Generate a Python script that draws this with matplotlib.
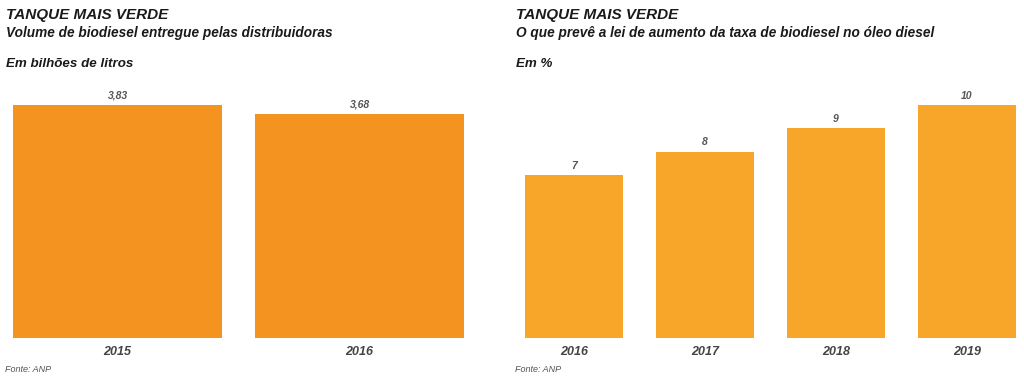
import matplotlib
matplotlib.use("Agg")
import matplotlib.pyplot as plt

W, H = 1024, 376

left_title = "TANQUE MAIS VERDE"
left_subtitle = "Volume de biodiesel entregue pelas distribuidoras"
left_unit = "Em bilhões de litros"
left_years = ["2015", "2016"]
left_values = [3.83, 3.68]
left_labels = ["3,83", "3,68"]

right_title = "TANQUE MAIS VERDE"
right_subtitle = "O que prevê a lei de aumento da taxa de biodiesel no óleo diesel"
right_unit = "Em %"
right_years = ["2016", "2017", "2018", "2019"]
right_values = [7, 8, 9, 10]
right_labels = ["7", "8", "9", "10"]

source = "Fonte: ANP"

plt.rcParams['font.family'] = ['Liberation Sans', 'DejaVu Sans']

fig = plt.figure(figsize=(W / 100, H / 100), dpi=100)
fig.patch.set_facecolor('white')


def px_axes(x0, x1, ytop, ybot):
    return fig.add_axes([x0 / W, 1 - ybot / H, (x1 - x0) / W, (ybot - ytop) / H])


def draw(ax, years, values, labels, width, color, ytop_val):
    n = len(values)
    xs = list(range(n))
    ax.bar(xs, values, width=width, color=color, edgecolor='none')
    ax.set_xlim(-width / 2, n - 1 + width / 2)
    ax.set_ylim(0, ytop_val)
    for x, v, lab in zip(xs, values, labels):
        ax.annotate(lab, (x, v), xytext=(0, 3), textcoords='offset points',
                    ha='center', va='bottom', fontsize=7.5, fontweight='bold',
                    fontstyle='italic', color='#555555')
    ax.set_xticks(xs)
    ax.set_xticklabels(years, fontsize=9, fontweight='bold', fontstyle='italic', color='#444444')
    ax.tick_params(axis='x', length=0, pad=6)
    ax.set_yticks([])
    for s in ax.spines.values():
        s.set_visible(False)
    ax.patch.set_alpha(0)


# Left chart
axL = px_axes(13, 464, 90, 338)
draw(axL, left_years, left_values, left_labels, 209 / 242, '#F4931F', 3.83 * 248 / 233)

# Right chart
axR = px_axes(525, 1016, 90, 338)
draw(axR, right_years, right_values, right_labels, 98 / 131, '#F8A629', 10 * 248 / 233)

for x0, t, st, u in [(6, left_title, left_subtitle, left_unit),
                     (516, right_title, right_subtitle, right_unit)]:
    fig.text(x0 / W, 1 - 15 / H, t, fontsize=11, fontweight='bold', fontstyle='italic',
             color='#1a1a1a', va='center', ha='left')
    fig.text(x0 / W, 1 - 33 / H, st, fontsize=9.8, fontweight='bold', fontstyle='italic',
             color='#1a1a1a', va='center', ha='left')
    fig.text(x0 / W, 1 - 64 / H, u, fontsize=9.6, fontweight='bold', fontstyle='italic',
             color='#1a1a1a', va='center', ha='left')
    fig.text((x0 - 1) / W, 1 - 370 / H, source, fontsize=6.5, fontstyle='italic',
             color='#555555', va='center', ha='left')

fig.savefig('out.png', dpi=100, facecolor='white')
